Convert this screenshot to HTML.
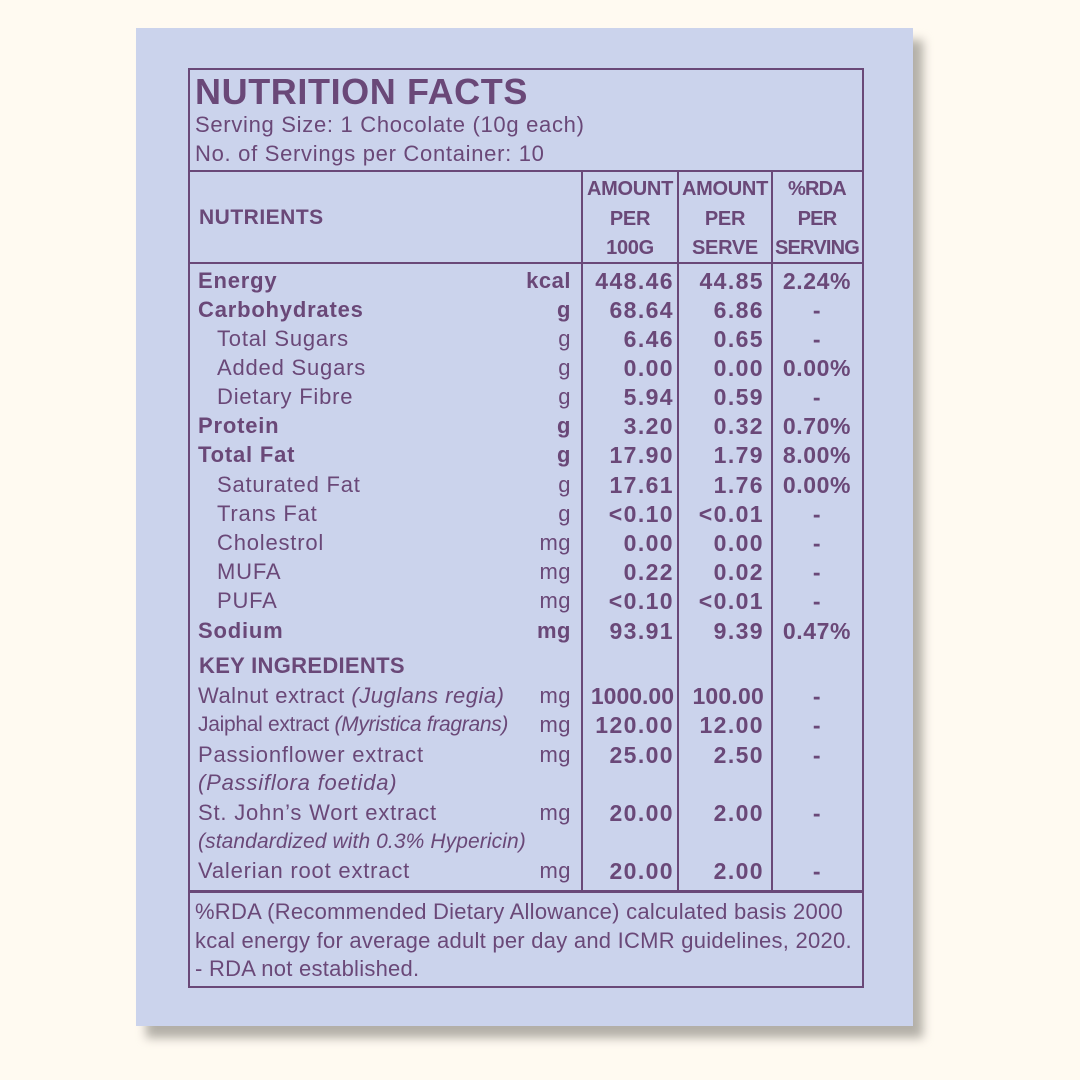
<!DOCTYPE html>
<html><head><meta charset="utf-8"><style>
body{margin:0;width:1080px;height:1080px;background:#fffaf1;position:relative;overflow:hidden;font-family:"Liberation Sans",sans-serif;color:#6a4878}
.shadow{position:absolute;left:146px;top:40px;width:777px;height:998px;background:#b3afa7;filter:blur(5px)}
.card{position:absolute;left:136px;top:28px;width:777px;height:998px;background:#cbd3ec}
.box{position:absolute;left:188px;top:68px;width:672px;height:916px;border:2px solid #6a4878}
.h{position:absolute;height:2px;background:#6a4878;left:188px;width:676px}
.v{position:absolute;width:2px;background:#6a4878;top:170px;height:721px}
.t{position:absolute;line-height:28px;font-size:22px;white-space:nowrap;letter-spacing:0.8px}
.n{font-size:23px;letter-spacing:1.4px}
.b{font-weight:bold}
.r{text-align:right}
.c{text-align:center}
</style></head><body>
<div class="shadow"></div><div class="card"></div>
<div class="box"></div>
<div class="h" style="top:170px"></div>
<div class="h" style="top:262px"></div>
<div class="h" style="top:890px;height:3px"></div>
<div class="v" style="left:581px"></div>
<div class="v" style="left:677px"></div>
<div class="v" style="left:771px"></div>
<div class="t b" style="left:195px;top:72px;font-size:36px;line-height:40px;letter-spacing:0.6px">NUTRITION FACTS</div>
<div class="t" style="left:195px;top:111px;font-size:22px;letter-spacing:0.7px">Serving Size: 1 Chocolate (10g each)</div>
<div class="t" style="left:195px;top:140px;font-size:22px;letter-spacing:0.7px">No. of Servings per Container: 10</div>
<div class="t b" style="left:199px;top:204px;font-size:21px;letter-spacing:0.5px">NUTRIENTS</div>
<div class="t b c" style="left:583px;width:94px;top:175px;font-size:20px;line-height:29.5px;letter-spacing:-0.3px">AMOUNT<br>PER<br>100G</div>
<div class="t b c" style="left:679px;width:92px;top:175px;font-size:20px;line-height:29.5px;letter-spacing:-0.3px">AMOUNT<br>PER<br>SERVE</div>
<div class="t b c" style="left:773px;width:88px;top:175px;font-size:20px;line-height:29.5px;letter-spacing:-0.8px">%RDA<br>PER<br>SERVING</div>
<div id="rows"></div>
<div class="t b" style="left:199px;top:652px;letter-spacing:0.3px">KEY INGREDIENTS</div>
<div class="t" style="left:198px;top:682px;letter-spacing:0.5px">Walnut extract <i>(Juglans regia)</i></div>
<div class="t" style="left:198px;top:711px;font-size:21px;letter-spacing:-0.3px">Jaiphal extract <i>(Myristica fragrans)</i></div>
<div class="t" style="left:198px;top:741px">Passionflower extract</div>
<div class="t" style="left:198px;top:769px"><i>(Passiflora foetida)</i></div>
<div class="t" style="left:198px;top:799px">St. John’s Wort extract</div>
<div class="t" style="left:198px;top:828px;font-size:21px;letter-spacing:0.1px"><i>(standardized with 0.3% Hypericin)</i></div>
<div class="t" style="left:198px;top:857px">Valerian root extract</div>
<div class="t" style="left:195px;top:898px;font-size:22px;letter-spacing:0.25px">%RDA (Recommended Dietary Allowance) calculated basis 2000</div>
<div class="t" style="left:195px;top:927px;font-size:22px;letter-spacing:0.25px">kcal energy for average adult per day and ICMR guidelines, 2020.</div>
<div class="t" style="left:195px;top:955px;font-size:22px;letter-spacing:0.25px">- RDA not established.</div>
<script>
var R=[["Energy","kcal","448.46","44.85","2.24%",1,0,281],["Carbohydrates","g","68.64","6.86","-",1,0,310],["Total Sugars","g","6.46","0.65","-",0,1,339],["Added Sugars","g","0.00","0.00","0.00%",0,1,368],["Dietary Fibre","g","5.94","0.59","-",0,1,397],["Protein","g","3.20","0.32","0.70%",1,0,426],["Total Fat","g","17.90","1.79","8.00%",1,0,455],["Saturated Fat","g","17.61","1.76","0.00%",0,1,485],["Trans Fat","g","<0.10","<0.01","-",0,1,514],["Cholestrol","mg","0.00","0.00","-",0,1,543],["MUFA","mg","0.22","0.02","-",0,1,572],["PUFA","mg","<0.10","<0.01","-",0,1,601],["Sodium","mg","93.91","9.39","0.47%",1,0,631],
["","mg","1000.00","100.00","-",0,0,696],["","mg","120.00","12.00","-",0,0,725],["","mg","25.00","2.50","-",0,0,755],["","mg","20.00","2.00","-",0,0,813],["","mg","20.00","2.00","-",0,0,871]];
var h="";function e(s){return s.replace(/</g,"&lt;")}
R.forEach(function(r){var t=r[7]-14;var k=r[13]!==undefined;
if(r[0])h+='<div class="t'+(r[5]?' b':'')+'" style="left:'+(r[6]?217:198)+'px;top:'+t+'px">'+r[0]+'</div>';
h+='<div class="t r'+(r[5]?' b':'')+'" style="left:470px;width:101px;top:'+t+'px;letter-spacing:0.5px">'+r[1]+'</div>';
var ls=(r[2].length>6)?'letter-spacing:0px;':'';
h+='<div class="t n r b" style="left:580px;width:94px;top:'+t+'px;'+ls+'">'+e(r[2])+'</div>';
h+='<div class="t n r b" style="left:676px;width:88px;top:'+t+'px;'+(r[3].length>5?'letter-spacing:0.2px;':'')+'">'+e(r[3])+'</div>';
h+='<div class="t n c b" style="left:773px;width:88px;top:'+t+'px;letter-spacing:0.6px">'+r[4]+'</div>';});
document.getElementById("rows").innerHTML=h;
</script>
</body></html>
